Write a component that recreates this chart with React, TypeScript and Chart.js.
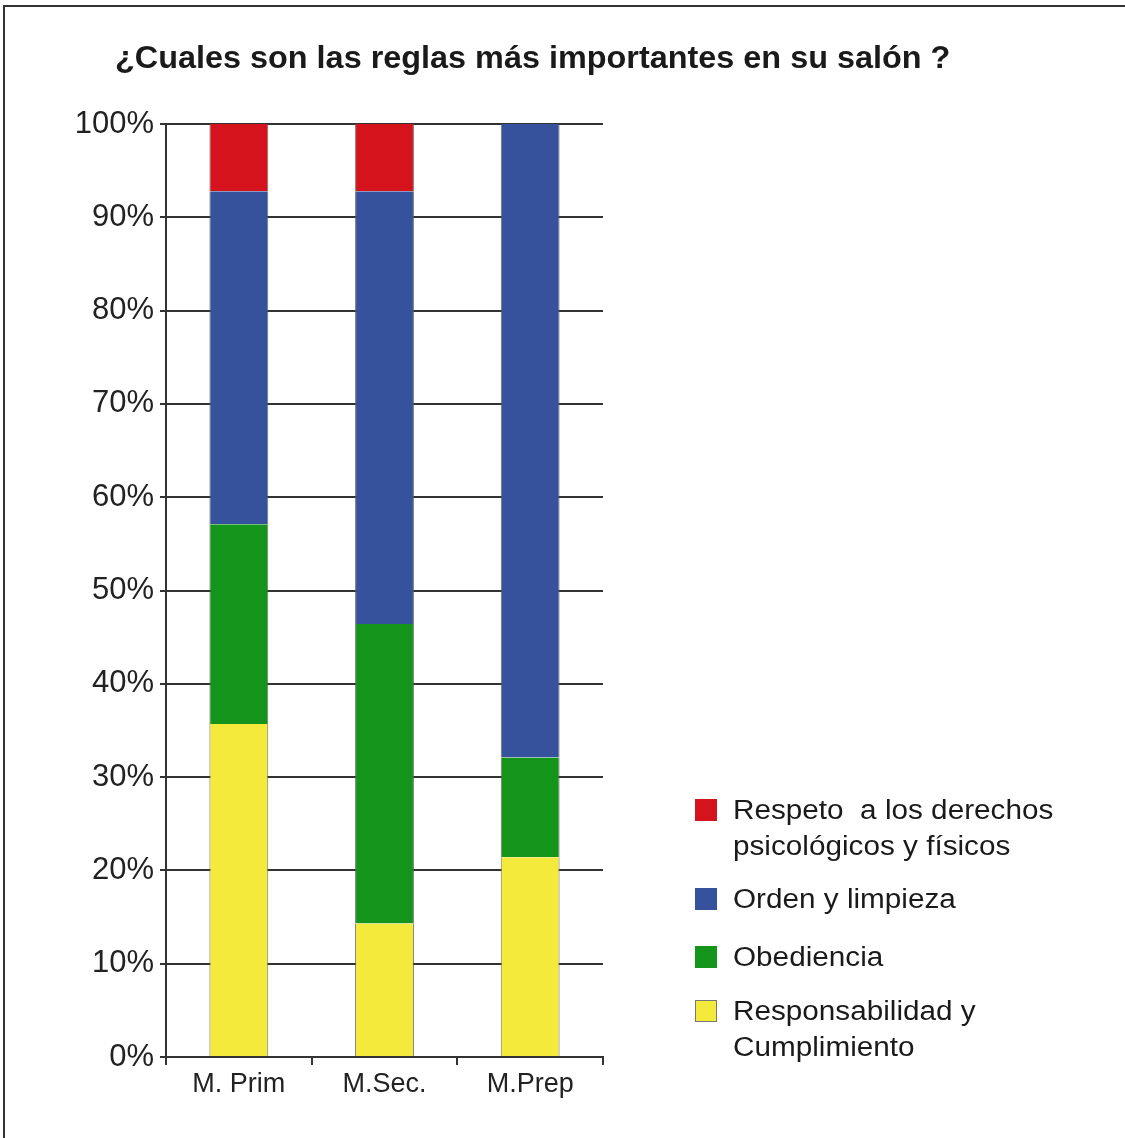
import React, { useEffect, useRef } from "react";
import { Chart, registerables } from "chart.js";

Chart.register(...registerables);

const categories = ["M. Prim", "M.Sec.", "M.Prep"];
const yTickLabels = ["0%", "10%", "20%", "30%", "40%", "50%", "60%", "70%", "80%", "90%", "100%"];

const responsabilidad = [35.7, 14.3, 21.4];
const obediencia = [21.4, 32.1, 10.7];
const orden = [35.7, 46.4, 67.9];
const respeto = [7.2, 7.2, 0];

const seriesNames = [
  ["Responsabilidad y", "Cumplimiento"],
  ["Obediencia"],
  ["Orden y limpieza"],
  ["Respeto  a los derechos", "psicológicos y físicos"],
];
const seriesColors = ["#F4EA3C", "#15941B", "#36529C", "#D5131C"];
const seriesData = [responsabilidad, obediencia, orden, respeto];

const FONT = "'Liberation Sans', Arial, sans-serif";

export default function App() {
  const ref = useRef<HTMLCanvasElement>(null);
  useEffect(() => {
    const chart = new Chart(ref.current!, {
      type: "bar",
      data: {
        labels: categories,
        datasets: seriesData.map((d, i) => ({
          label: seriesNames[i].join(" "),
          data: d,
          backgroundColor: seriesColors[i],
          borderColor: "rgba(90,90,80,0.85)",
          borderWidth: { left: 1, right: 1, top: 0, bottom: 0 },
          categoryPercentage: 1,
          barPercentage: 0.404,
        })),
      },
      options: {
        responsive: false,
        animation: false,
        layout: { padding: { left: 66, top: 124, right: 522, bottom: 21 } },
        plugins: { legend: { display: false }, title: { display: false }, tooltip: { enabled: false } },
        scales: {
          x: {
            stacked: true,
            afterFit: (s: any) => { s.height = 60; },
            grid: { drawOnChartArea: false, drawTicks: true, tickLength: 8, color: "#333", lineWidth: 2 },
            border: { display: true, color: "#333", width: 2 },
            ticks: { color: "#222", font: { family: FONT, size: 27 }, padding: 3 },
          },
          y: {
            stacked: true,
            min: 0,
            max: 100,
            afterFit: (s: any) => { s.width = 100; },
            grid: { color: "#333", lineWidth: 2, tickLength: 6 },
            border: { display: true, color: "#333", width: 2 },
            ticks: {
              stepSize: 10,
              color: "#222",
              padding: 6,
              font: { family: FONT, size: 31 },
              callback: (_v: any, i: number) => yTickLabels[i],
            },
          },
        },
      },
    });
    return () => chart.destroy();
  }, []);

  const legendItems = [3, 2, 1, 0];
  const legendTops = [792, 881, 939, 993];

  return (
    <div style={{ position: "absolute", left: 0, top: 0, width: 1125, height: 1138, background: "#fff", overflow: "hidden", fontFamily: FONT }}>
      <div style={{ position: "absolute", left: 3, top: 5, width: 1130, height: 1150, border: "2px solid #333", boxSizing: "border-box" }} />
      <canvas ref={ref} width={1125} height={1138} style={{ position: "absolute", left: 0, top: 0 }} />
      <div style={{ position: "absolute", left: 115, top: 39, fontSize: 31, fontWeight: "bold", lineHeight: "38px", color: "#1a1a1a", whiteSpace: "nowrap", transform: "scaleX(1.045)", transformOrigin: "left center" }}>
        ¿Cuales son las reglas más importantes en su salón ?
      </div>
      {legendItems.map((si, k) => (
        <div key={si} style={{ position: "absolute", left: 695, top: legendTops[k] }}>
          <div style={{ position: "absolute", left: 0, top: 7, width: 22, height: 22, background: seriesColors[si], border: si === 0 ? "1px solid #777" : "none", boxSizing: "border-box" }} />
          <div style={{ position: "absolute", left: 38, top: 0, fontSize: 27, lineHeight: "36px", color: "#1a1a1a", whiteSpace: "pre", transform: "scaleX(1.1)", transformOrigin: "left center" }}>
            {seriesNames[si].map((t, j) => <div key={j}>{t}</div>)}
          </div>
        </div>
      ))}
    </div>
  );
}
